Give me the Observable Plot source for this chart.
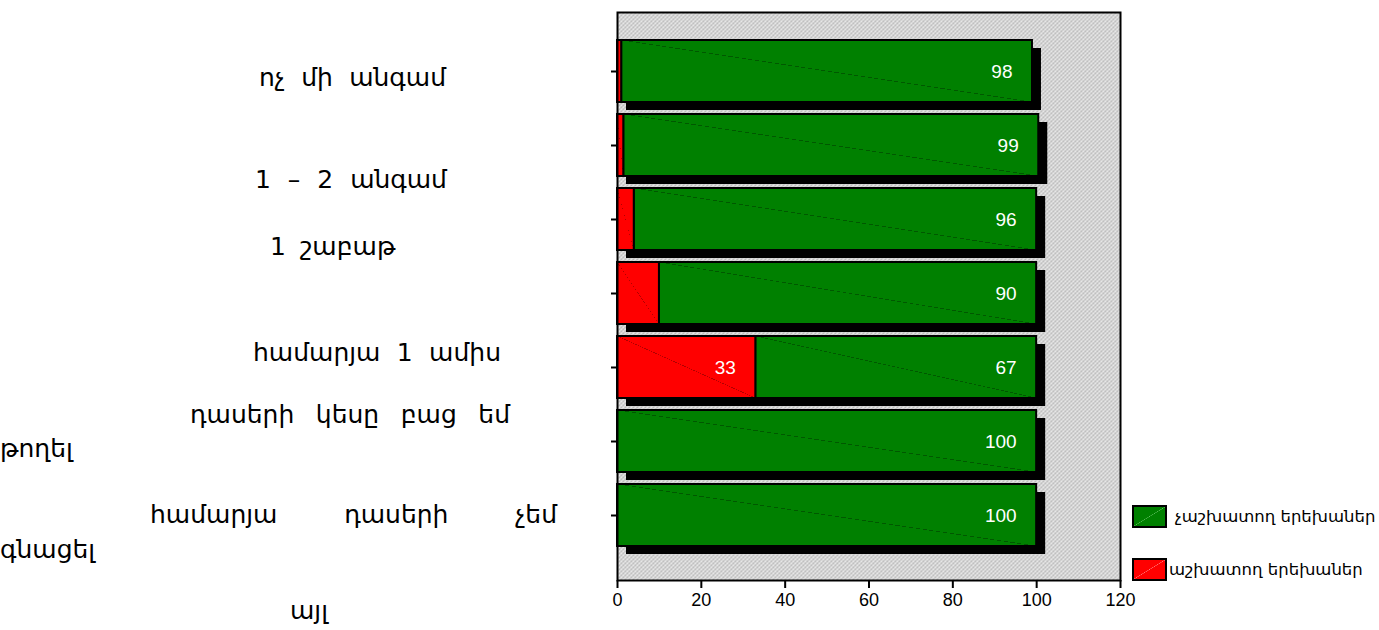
<!DOCTYPE html>
<html>
<head>
<meta charset="utf-8">
<script src="https://cdn.jsdelivr.net/npm/d3@7"></script>
<script src="https://cdn.jsdelivr.net/npm/@observablehq/plot@0.6"></script>
<style>
  body { margin: 0; background: #fff; }
  #wrap { position: relative; width: 1379px; height: 630px; overflow: hidden; font-family: "DejaVu Sans", sans-serif; }
  #chart { position: absolute; left: 0; top: 0; }
  .lab { position: absolute; font-size: 25px; color: #000; white-space: nowrap; line-height: 28px; }
  .lab .l1 { display: flex; justify-content: space-between; column-gap: 14px; }
  .leg { position: absolute; display: flex; align-items: center; font-size: 16.5px; color: #000; white-space: nowrap; }
  .sw { width: 31px; height: 19px; border: 2px solid #000; margin-right: 8px; }
</style>
</head>
<body>
<div id="wrap">
  <div id="chart"></div>
  <div id="labels"></div>
  <div id="legend"></div>
</div>
<script>
// ---- data ----
const categories = [
  "ոչ մի անգամ",
  "1 – 2 անգամ",
  "1 շաբաթ",
  "համարյա 1 ամիս",
  "դասերի կեսը բաց եմ թողել",
  "համարյա դասերի չեմ գնացել",
  "այլ"
];
const seriesNames = ["չաշխատող երեխաներ", "աշխատող երեխաներ"];
const notWorking = [98, 99, 96, 90, 67, 100, 100];
const working = [1, 1.5, 4, 10, 33, 0, 0];
const xTicks = [0, 20, 40, 60, 80, 100, 120];

// ---- layout of the free-floating category labels (not data) ----
const labelLayout = [
  {top: 64, left: 259, width: 187},
  {top: 166, left: 255, width: 192},
  {top: 233, left: 270, width: 124},
  {top: 339, left: 253, width: 248},
  {top: 401, left: 190, width: 320, wrap: 4, second: 34},
  {top: 501, left: 150, width: 407, wrap: 3, second: 35},
  {top: 597, left: 290, width: 30}
];

// ---- build tables ----
const redRows = categories.map((c, i) => ({cat: c, x1: 0, x2: working[i], value: working[i]}));
const greenRows = categories.map((c, i) => ({cat: c, x1: working[i], x2: working[i] + notWorking[i], value: notWorking[i]}));
const totals = categories.map((c, i) => ({cat: c, total: working[i] + notWorking[i]}));
const labelRows = [...redRows, ...greenRows].filter(d => d.value >= 20);

const plot = Plot.plot({
  width: 1379,
  height: 630,
  marginLeft: 617,
  marginRight: 259,
  marginTop: 12,
  marginBottom: 50,
  style: {fontFamily: "'Liberation Sans', Arial, sans-serif", background: "transparent"},
  x: {domain: [0, 120]},
  y: {domain: categories, paddingInner: 0.162, paddingOuter: 0.378, insetBottom: 6},
  marks: [
    Plot.frame({fill: "url(#bgpat)", stroke: "none"}),
    Plot.barX(totals, {y: "cat", x1: 0, x2: "total", fill: "#000", dx: 9, dy: 8}),
    Plot.barX(greenRows, {y: "cat", x1: "x1", x2: "x2", fill: "url(#gGreen)", stroke: "#000", strokeWidth: 2}),
    Plot.barX(redRows.filter(d => d.value > 0), {y: "cat", x1: "x1", x2: "x2", fill: "url(#gRed)", stroke: "#000", strokeWidth: 2}),
    Plot.text(labelRows, {y: "cat", x: "x2", text: d => String(d.value), dx: -20, textAnchor: "end", fill: "#fff", fontSize: 19}),
    Plot.frame({stroke: "#000", strokeWidth: 2}),
    Plot.axisX({ticks: xTicks, tickSize: 8, tickPadding: 5, fontSize: 18, label: null, strokeWidth: 2, color: "#000"}),
    Plot.axisY({tickSize: 6, tickFormat: () => "", label: null, strokeWidth: 2})
  ]
});
document.getElementById("chart").appendChild(plot);

// pattern + gradients
const svg = d3.select(plot.tagName.toLowerCase() === "svg" ? plot : plot.querySelector("svg"));
const defs = svg.insert("defs", ":first-child");
const pat = defs.append("pattern").attr("id", "bgpat").attr("patternUnits", "userSpaceOnUse").attr("width", 4).attr("height", 4);
pat.append("rect").attr("width", 4).attr("height", 4).attr("fill", "#c0c0c0");
[[0,0],[1,0],[0,1],[2,2],[3,2],[2,3]].forEach(([px, py]) => pat.append("rect").attr("x", px).attr("y", py).attr("width", 1).attr("height", 1).attr("fill", "#f2f2f2"));
function diag(id, base, line) {
  const g = defs.append("linearGradient").attr("id", id).attr("x1", 0).attr("y1", 1).attr("x2", 1).attr("y2", 0);
  [[0, base], [0.4975, base], [0.4975, line], [0.5025, line], [0.5025, base], [1, base]]
    .forEach(([o, c]) => g.append("stop").attr("offset", o).attr("stop-color", c));
}
diag("gGreen", "#008000", "#005800");
diag("gRed", "#ff0000", "#b00000");

// category labels
const labDiv = document.getElementById("labels");
categories.forEach((c, i) => {
  const L = labelLayout[i];
  const d = document.createElement("div");
  d.className = "lab";
  d.style.top = L.top + "px";
  const words = c.split(" ");
  const first = document.createElement("div");
  first.className = "l1";
  first.style.marginLeft = L.left + "px";
  first.style.width = L.width + "px";
  words.slice(0, L.wrap || words.length).forEach(w => { const s = document.createElement("span"); s.textContent = w; first.appendChild(s); });
  d.style.left = "0px";
  d.appendChild(first);
  if (L.wrap) {
    const second = document.createElement("div");
    second.style.marginTop = (L.second - 28) + "px";
    second.textContent = words.slice(L.wrap).join(" ");
    d.appendChild(second);
  }
  labDiv.appendChild(d);
});

// legend
const legendItems = [
  {name: seriesNames[0], grad: "linear-gradient(to bottom right, #008000 48.5%, #5fbf5f 50%, #008000 51.5%)", top: 505, left: 1132, gap: 8},
  {name: seriesNames[1], grad: "linear-gradient(to bottom right, #ff0000 48.5%, #ff8080 50%, #ff0000 51.5%)", top: 558, left: 1132, gap: 2}
];
const legDiv = document.getElementById("legend");
legendItems.forEach(it => {
  const row = document.createElement("div");
  row.className = "leg";
  row.style.top = it.top + "px";
  row.style.left = it.left + "px";
  const sw = document.createElement("div");
  sw.className = "sw";
  sw.style.background = it.grad;
  sw.style.marginRight = it.gap + "px";
  const t = document.createElement("span");
  t.textContent = it.name;
  row.appendChild(sw);
  row.appendChild(t);
  legDiv.appendChild(row);
});
</script>
</body>
</html>
